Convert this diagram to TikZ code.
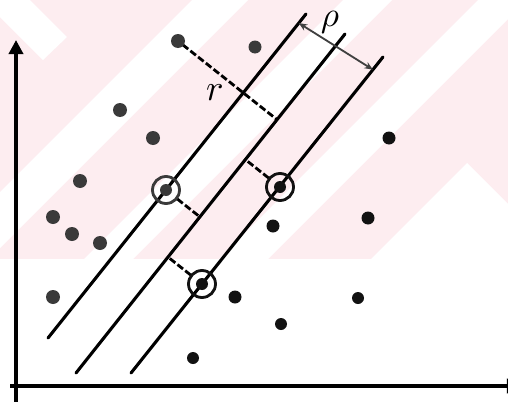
\documentclass[tikz,border=0pt]{standalone}
\usepackage{amsmath}
\usepackage{graphicx}
\usepackage{tikz}
\usetikzlibrary{arrows.meta,calc}
\definecolor{wmpink}{RGB}{253,237,240}
\definecolor{svgray}{RGB}{58,58,58}
\definecolor{svblack}{RGB}{18,18,18}

\begin{document}
\begin{tikzpicture}[x=0.025cm, y=-0.025cm,
  hyper/.style={line width=2.2pt, line cap=round},
  gap/.style={line width=2pt, dash pattern=on 5pt off 2pt},
  ring/.style={line width=2pt}]
  \useasboundingbox (0,0) rectangle (508,402);
  % Faint background print
  \fill[wmpink] (0,0) rectangle (508,259);
  \begin{scope}
    \clip (0,0) rectangle (508,259);
    \fill[white] (-17,0) -- (30,0) -- (67,37) -- (43,60) -- cycle;
    \fill[white] (192,0) -- (248,0) -- (-11,259) -- (-67,259) -- cycle;
    \fill[white] (343,0) -- (392,0) -- (133,259) -- (84,259) -- cycle;
    \fill[white] (478,0) -- (527,0) -- (268,259) -- (219,259) -- cycle;
    \fill[white] (467,163) -- (563,259) -- (371,259) -- cycle;
  \end{scope}
  % Axes
  \draw[line width=3.2pt, -{Triangle[length=10pt,width=10pt]}] (16,402) -- (16,40);
  \draw[line width=3.2pt, -{Triangle[length=10pt,width=10pt]}] (10,386) -- (521,386);
  % Separating lines
  \coordinate (l1a) at (48,338);
  \coordinate (l1b) at (306,14);
  \coordinate (l2a) at (76,373);
  \coordinate (l2b) at (345,34);
  \coordinate (l3a) at (131,373);
  \coordinate (l3b) at (383,57);
  \draw[hyper] (l1a) -- (l1b);
  \draw[hyper] (l2a) -- (l2b);
  \draw[hyper] (l3a) -- (l3b);
  % Support vectors and distances
  \coordinate (sv1) at (166,190);
  \coordinate (sv2) at (280,187);
  \coordinate (sv3) at (202,284);
  \coordinate (pr) at (178,41);
  \coordinate (m0) at ($(l2a)!(pr)!(l2b)$);
  \coordinate (m1) at ($(l2a)!(sv1)!(l2b)$);
  \coordinate (m2) at ($(l2a)!(sv2)!(l2b)$);
  \coordinate (m3) at ($(l2a)!(sv3)!(l2b)$);
  \draw[gap, shorten <=0.15cm] (pr) -- (m0);
  \draw[gap, shorten <=0.36cm] (sv1) -- (m1);
  \draw[gap, shorten <=0.36cm] (sv2) -- (m2);
  \draw[gap, shorten <=0.36cm] (sv3) -- (m3);
  \node (rlab) at (215,93) {\scalebox{2.6}{$r$}};
  % Margin width
  \coordinate (w1) at ($(l1a)!0.972!(l1b)$);
  \coordinate (w3) at ($(l3a)!0.96!(l3b)$);
  \draw[line width=1.3pt, black!75, {Stealth[length=6pt,width=5pt]}-{Stealth[length=6pt,width=5pt]}] (w1) -- (w3);
  \node (rholab) at (330,22) {\scalebox{2.5}{$\rho$}};
  % First class
  \fill[svgray] (178,41) circle (7);
  \fill[svgray] (255,47) circle (6.5);
  \fill[svgray] (120,110) circle (7);
  \fill[svgray] (153,138) circle (7);
  \fill[svgray] (80,181) circle (7);
  \fill[svgray] (53,217) circle (7);
  \fill[svgray] (72,234) circle (7);
  \fill[svgray] (100,243) circle (7);
  \fill[svgray] (53,297) circle (7);
  % Second class
  \fill[svblack] (389,138) circle (6.5);
  \fill[svblack] (368,218) circle (6.5);
  \fill[svblack] (273,226) circle (6.5);
  \fill[svblack] (235,297) circle (6.5);
  \fill[svblack] (358,298) circle (6);
  \fill[svblack] (281,324) circle (6);
  \fill[svblack] (193,358) circle (6);
  % Rings
  \fill[svgray] (sv1) circle (6);
  \fill[svblack] (sv2) circle (6);
  \fill[svblack] (sv3) circle (6);
  \draw[ring, svgray] (sv1) circle (13.5);
  \draw[ring, svblack] (sv2) circle (13.5);
  \draw[ring, svblack] (sv3) circle (13.5);
\end{tikzpicture}
\end{document}
